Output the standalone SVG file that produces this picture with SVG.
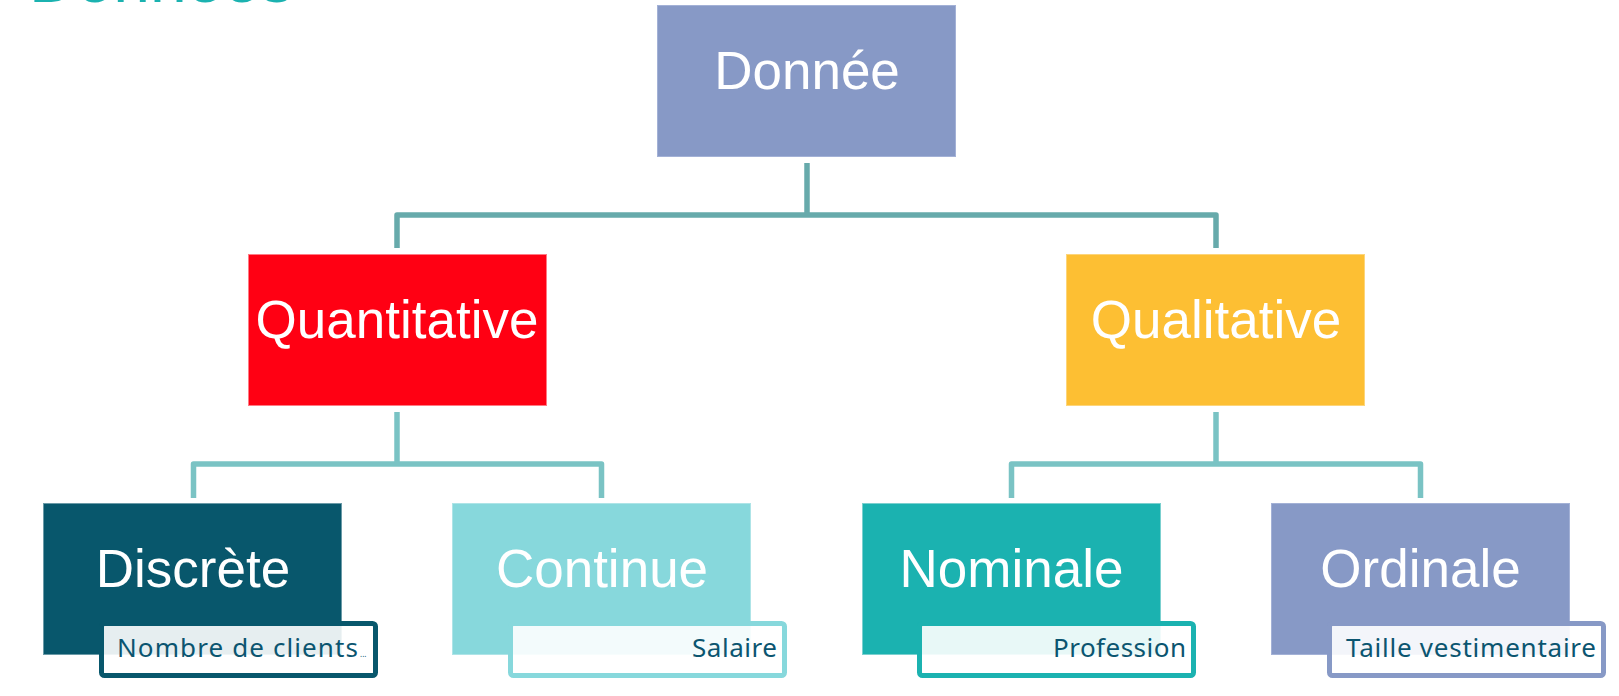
<svg xmlns="http://www.w3.org/2000/svg" width="1619" height="696" viewBox="0 0 1619 696">
  <style>
    .box { stroke-width: 1; }
    .main { font-family: "Liberation Sans", Arial, sans-serif; font-size: 53px; fill: #ffffff; text-anchor: middle; }
    .sub { font-family: "Noto Sans", Lato, sans-serif; font-size: 26px; fill: #0b5570; text-anchor: end; }
    .dots { font-family: "Noto Sans", sans-serif; font-size: 8px; fill: #0b5570; }
    .subbox { fill: #ffffff; fill-opacity: 0.9; stroke-width: 5; }
    .conn1 { fill: none; stroke: #67aaab; stroke-width: 5.5; stroke-linejoin: round; }
    .conn2 { fill: none; stroke: #7ac3c4; stroke-width: 5.5; stroke-linejoin: round; }
    .heading { font-family: "Liberation Sans", Arial, sans-serif; font-size: 66px; fill: #1bb2b0; }
  </style>

  <text class="heading" x="29" y="2">Données</text>

  <g id="connectors">
    <path class="conn1" d="M397 248 V215 H1216 V248"/>
    <path class="conn1" d="M807 163 V215"/>
    <path class="conn2" d="M193.5 498 V464 H601.5 V498"/>
    <path class="conn2" d="M397 412 V464"/>
    <path class="conn2" d="M1011.5 498 V464 H1420.5 V498"/>
    <path class="conn2" d="M1216 412 V464"/>
  </g>

  <g id="donnee">
    <rect class="box" x="657.5" y="5.5" width="298" height="151" fill="#8799c6" stroke="#a3b1d6"/>
    <text class="main" x="807" y="89">Donnée</text>
  </g>

  <g id="quantitative">
    <rect class="box" x="248.5" y="254.5" width="298" height="151" fill="#ff0013" stroke="#ff7a84"/>
    <text class="main" x="397" y="338">Quantitative</text>
  </g>

  <g id="qualitative">
    <rect class="box" x="1066.5" y="254.5" width="298" height="151" fill="#fdbf33" stroke="#fdd57a"/>
    <text class="main" x="1216" y="338">Qualitative</text>
  </g>

  <g id="discrete">
    <rect class="box" x="43.5" y="503.5" width="298" height="151" fill="#08576c" stroke="#6a9aa7"/>
    <text class="main" x="193" y="587">Discrète</text>
    <rect class="subbox" x="101.5" y="623.5" width="274" height="52" rx="3" stroke="#08576c"/>
    <text class="sub" x="358" y="657" textLength="241" lengthAdjust="spacing">Nombre de clients</text>
    <text class="dots" x="360" y="657">...</text>
  </g>

  <g id="continue">
    <rect class="box" x="452.5" y="503.5" width="298" height="151" fill="#87d8dc" stroke="#aee4e7"/>
    <text class="main" x="602" y="587">Continue</text>
    <rect class="subbox" x="510.5" y="623.5" width="274" height="52" rx="3" stroke="#87d8dc"/>
    <text class="sub" x="777" y="657" textLength="85" lengthAdjust="spacing">Salaire</text>
  </g>

  <g id="nominale">
    <rect class="box" x="862.5" y="503.5" width="298" height="151" fill="#1bb2b0" stroke="#7bd0cf"/>
    <text class="main" x="1011.5" y="587">Nominale</text>
    <rect class="subbox" x="919.5" y="623.5" width="274" height="52" rx="3" stroke="#1bb2b0"/>
    <text class="sub" x="1186" y="657" textLength="133" lengthAdjust="spacing">Profession</text>
  </g>

  <g id="ordinale">
    <rect class="box" x="1271.5" y="503.5" width="298" height="151" fill="#8799c6" stroke="#a3b1d6"/>
    <text class="main" x="1420.5" y="587">Ordinale</text>
    <rect class="subbox" x="1329.5" y="623.5" width="274" height="52" rx="3" stroke="#8799c6"/>
    <text class="sub" x="1596" y="657" textLength="250" lengthAdjust="spacing">Taille vestimentaire</text>
  </g>
</svg>
